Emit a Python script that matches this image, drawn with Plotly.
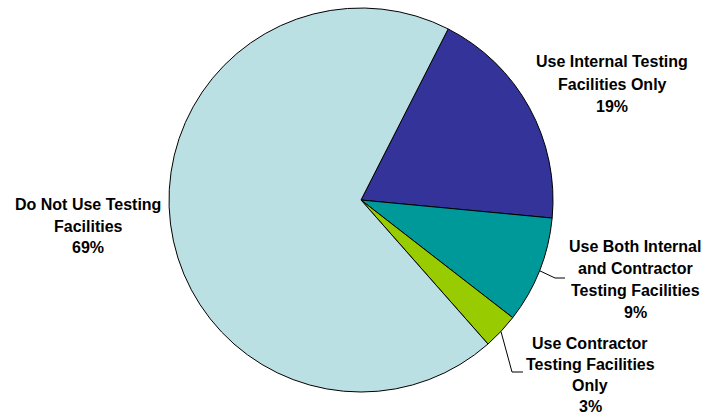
import math
import plotly.graph_objects as go

# Data
categories = ["Use Internal Testing Facilities Only",
              "Use Both Internal and Contractor Testing Facilities",
              "Use Contractor Testing Facilities Only",
              "Do Not Use Testing Facilities"]
values = [19, 9, 3, 69]
label_lines = [["Use Internal Testing", "Facilities Only", "19%"],
               ["Use Both Internal", "and Contractor", "Testing Facilities", "9%"],
               ["Use Contractor", "Testing Facilities", "Only", "3%"],
               ["Do Not Use Testing", "Facilities", "69%"]]
colors = ["#333399", "#009999", "#99CC00", "#BBE0E3"]

W, H = 702, 415
CX, CY, R = 361, 200, 192
ROT = 27

fig = go.Figure(go.Pie(
    labels=categories, values=values, sort=False, direction="clockwise",
    rotation=ROT, textinfo="none", hoverinfo="label+percent",
    marker=dict(colors=colors, line=dict(color="#000000", width=1)),
    domain=dict(x=[(CX - R) / W, (CX + R) / W], y=[(H - CY - R) / H, (H - CY + R) / H]),
    showlegend=False,
))

def px(x):
    return x / W

def py(y):
    return 1 - y / H

# label layout: (center x, first line y, line step)
label_pos = [(612, 62, 22.0), (635, 246.5, 22.0), (590, 343, 21.3), (88, 205, 21.0)]
annotations = []
for lines, (lx, ly, step) in zip(label_lines, label_pos):
    for i, t in enumerate(lines):
        annotations.append(dict(
            x=px(lx), y=py(ly + i * step), xref="paper", yref="paper",
            text="<b>%s</b>" % t, showarrow=False, xanchor="center", yanchor="middle",
            font=dict(family="Liberation Sans, Arial, sans-serif", size=16, color="#000000"),
        ))

# leader lines for the two small slices, starting at slice mid-angle
total = sum(values)
cum = 0
mids = []
for v in values:
    mids.append(ROT + (cum + v / 2) / total * 360)
    cum += v
shapes = []
leader_bends = {1: [(555, 278), (565, 278)], 2: [(512, 372), (523, 372)]}
for idx, pts in leader_bends.items():
    a = math.radians(mids[idx])
    sx, sy = CX + R * math.sin(a), CY - R * math.cos(a)
    path_pts = [(sx, sy)] + pts
    path = "M " + " L ".join("%f,%f" % (px(x), py(y)) for x, y in path_pts)
    shapes.append(dict(type="path", path=path, xref="paper", yref="paper",
                       line=dict(color="#000000", width=1)))

fig.update_layout(
    width=W, height=H, margin=dict(l=0, r=0, t=0, b=0),
    paper_bgcolor="#FFFFFF", plot_bgcolor="#FFFFFF",
    annotations=annotations, shapes=shapes,
)
fig.write_html("out.html", config={"displayModeBar": False},
               post_script="document.body.style.margin='0';document.body.style.overflow='hidden';")
